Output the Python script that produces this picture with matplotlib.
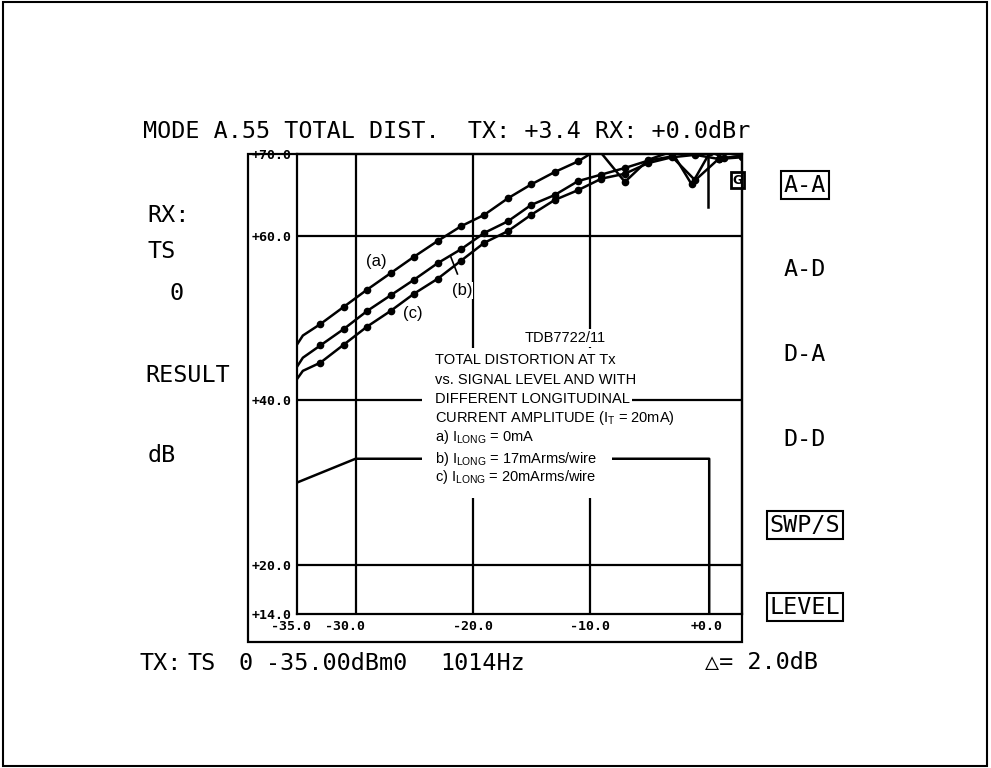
import matplotlib
matplotlib.use('Agg')
import matplotlib.pyplot as plt
import matplotlib.transforms as mtransforms
from matplotlib import font_manager
from matplotlib.patches import Rectangle

# signal level at Tx (dBm0) and total distortion (dB)
level_a = [-35, -34.5, -33, -31, -29, -27, -25, -23, -21, -19, -17, -15, -13, -11, -9.3, -7, -5, -3, -1.3, 0.3, 1.5, 3]
dist_a = [46.8, 47.9, 49.3, 51.4, 53.5, 55.5, 57.5, 59.4, 61.2, 62.6, 64.6, 66.3, 67.8, 69.1, 70.6, 66.6, 69.3, 70.3, 66.3, 70.3, 69.5, 69.8]

level_b = [-35, -34.5, -33, -31, -29, -27, -25, -23, -21, -19, -17, -15, -13, -11, -9, -7, -5, -3, -1, 1, 3]
dist_b = [44.1, 45.2, 46.7, 48.7, 50.9, 52.8, 54.7, 56.7, 58.4, 60.4, 61.8, 63.8, 65.0, 66.7, 67.5, 68.3, 69.2, 69.7, 66.8, 69.4, 69.6]

level_c = [-35, -34.5, -33, -31, -29, -27, -25, -23, -21, -19, -17, -15, -13, -11, -9, -7, -5, -3, -1, 1, 3]
dist_c = [42.6, 43.6, 44.6, 46.8, 49.0, 50.9, 53.0, 54.8, 57.0, 59.2, 60.6, 62.6, 64.4, 65.6, 67.0, 67.6, 68.9, 69.6, 69.9, 69.4, 69.8]

# limit trace (lower) and cursor stroke at the top
limit_x = [-35, -30, 0.2, 0.2]
limit_y = [30.0, 32.9, 32.9, 14.0]
cursor_x = [0.1, 0.1]
cursor_y = [70.0, 63.6]

xtick_vals = [-35, -30, -20, -10, 0]
xtick_labels = ['-35.0', '-30.0', '-20.0', '-10.0', '+0.0']
ytick_vals = [14, 20, 40, 60, 70]
ytick_labels = ['+14.0', '+20.0', '+40.0', '+60.0', '+70.0']
grid_x = [-30, -20, -10]
grid_y = [20, 40, 60]

note_title = 'TDB7722/11'
note_lines = [
    'TOTAL DISTORTION AT Tx',
    'vs. SIGNAL LEVEL AND WITH',
    'DIFFERENT LONGITUDINAL',
    r'CURRENT AMPLITUDE (I$_{\mathrm{T}}$ = 20mA)',
    r'a) I$_{\mathrm{LONG}}$ = 0mA',
    r'b) I$_{\mathrm{LONG}}$ = 17mArms/wire',
    r'c) I$_{\mathrm{LONG}}$ = 20mArms/wire',
]

header = 'MODE A.55 TOTAL DIST.  TX: +3.4 RX: +0.0dBr'
left_labels = [('RX:', 147, 215, 'left'), ('TS', 147, 252, 'left'), ('0', 177, 293, 'center'),
               ('RESULT', 145, 375, 'left'), ('dB', 148, 455, 'left')]
right_labels = [('A-A', 185, True), ('A-D', 270, False), ('D-A', 355, False),
                ('D-D', 440, False), ('SWP/S', 525, True), ('LEVEL', 607, True)]
footer = [('TX:', 140), ('TS', 188), ('0', 238), ('-35.00dBm0', 266), ('1014Hz', 440), ('\u25b3= 2.0dB', 705)]

names = {f.name for f in font_manager.fontManager.ttflist}
sans = 'Liberation Sans' if 'Liberation Sans' in names else 'DejaVu Sans'
plotter = ['DejaVu Sans Mono', 'DejaVu Sans']
big = 16.8
plt.rcParams['mathtext.fontset'] = 'custom'
plt.rcParams['mathtext.rm'] = sans
plt.rcParams['mathtext.it'] = sans

W, H = 991, 768
fig = plt.figure(figsize=(W / 100, H / 100), dpi=100)
fig.patch.set_facecolor('white')

def fx(px):
    return px / W

def fy(py):
    return 1 - py / H

ax_l, ax_r, ax_t, ax_b = 297, 742, 154, 614
ax = fig.add_axes([fx(ax_l), fy(ax_b), fx(ax_r - ax_l), (ax_b - ax_t) / H])
ax.set_xlim(-35, 3)
ax.set_ylim(14, 70)

for gx in grid_x:
    ax.axvline(gx, color='black', lw=1.6, zorder=1)
for gy in grid_y:
    ax.axhline(gy, color='black', lw=1.6, zorder=1)

ax.plot(limit_x, limit_y, color='black', lw=1.8, zorder=2)
ax.plot(cursor_x, cursor_y, color='black', lw=1.8, zorder=2)

for lx, ly in [(level_a, dist_a), (level_b, dist_b), (level_c, dist_c)]:
    ax.plot(lx, ly, color='black', lw=1.8, marker='o', ms=4.5,
            markevery=slice(2, None), zorder=4)

# white block behind the pasted-in legend text
ax.add_patch(Rectangle((-24.3, 28.1), 16.2, 18.3, facecolor='white', edgecolor='none', zorder=3))

txt_kw = dict(family=sans, fontsize=10.5, color='black', zorder=5,
              bbox=dict(facecolor='white', edgecolor='none', pad=1.5))
ax.text(-12.1, 47.6, note_title, ha='center', va='center', **txt_kw)
note_y = [44.9, 42.5, 40.2, 37.9, 35.5, 32.9, 30.7]
for line, ly in zip(note_lines, note_y):
    ax.text(-23.2, ly, line, ha='left', va='center', **txt_kw)

lab_kw = dict(family=sans, fontsize=12, color='black', zorder=3,
              bbox=dict(facecolor='white', edgecolor='none', pad=0.5))
ax.text(-28.2, 56.9, '(a)', ha='center', va='center', **lab_kw)
ax.text(-20.9, 53.4, '(b)', ha='center', va='center', **lab_kw)
ax.text(-25.1, 50.6, '(c)', ha='center', va='center', **lab_kw)
ax.plot([-21.3, -21.9], [55.4, 57.6], color='black', lw=1.2, zorder=5)

ax.text(2.6, 66.8, 'G', family='DejaVu Sans', fontsize=9, fontweight='bold', ha='center', va='center',
        zorder=6, bbox=dict(facecolor='white', edgecolor='black', lw=2, pad=1))

for s in ax.spines.values():
    s.set_linewidth(1.6)

mono = dict(family='DejaVu Sans Mono', fontweight='bold', fontsize=9.5)
ax.set_xticks(xtick_vals, xtick_labels, **mono)
ax.set_yticks(ytick_vals, ytick_labels, **mono)
ax.tick_params(length=0, pad=4)
shifts = [-6, -11, 0, 0, 0]
for lab, dx in zip(ax.get_xticklabels(), shifts):
    if dx:
        lab.set_transform(lab.get_transform() + mtransforms.ScaledTranslation(dx / 100, 0, fig.dpi_scale_trans))

# outer frame holding the tick labels, and the page border
fig.add_artist(Rectangle((fx(248), fy(642)), fx(742 - 248), (642 - 154) / H, transform=fig.transFigure,
                         fill=False, edgecolor='black', lw=1.6))
fig.add_artist(Rectangle((fx(3), fy(766)), fx(984), 764 / H, transform=fig.transFigure,
                         fill=False, edgecolor='black', lw=1.5))

fig.text(fx(143), fy(132), header, family=plotter, fontsize=big, ha='left', va='center')
for s, px, py, ha in left_labels:
    fig.text(fx(px), fy(py), s, family=plotter, fontsize=big, ha=ha, va='center')
for s, py, boxed in right_labels:
    kw = {}
    if boxed:
        kw['bbox'] = dict(facecolor='none', edgecolor='black', lw=1.5, pad=2)
    fig.text(fx(805), fy(py), s, family=plotter, fontsize=big, ha='center', va='center', **kw)
for s, px in footer:
    fig.text(fx(px), fy(663), s, family=plotter, fontsize=big, ha='left', va='center')

fig.savefig('out.png', dpi=100, facecolor='white')
